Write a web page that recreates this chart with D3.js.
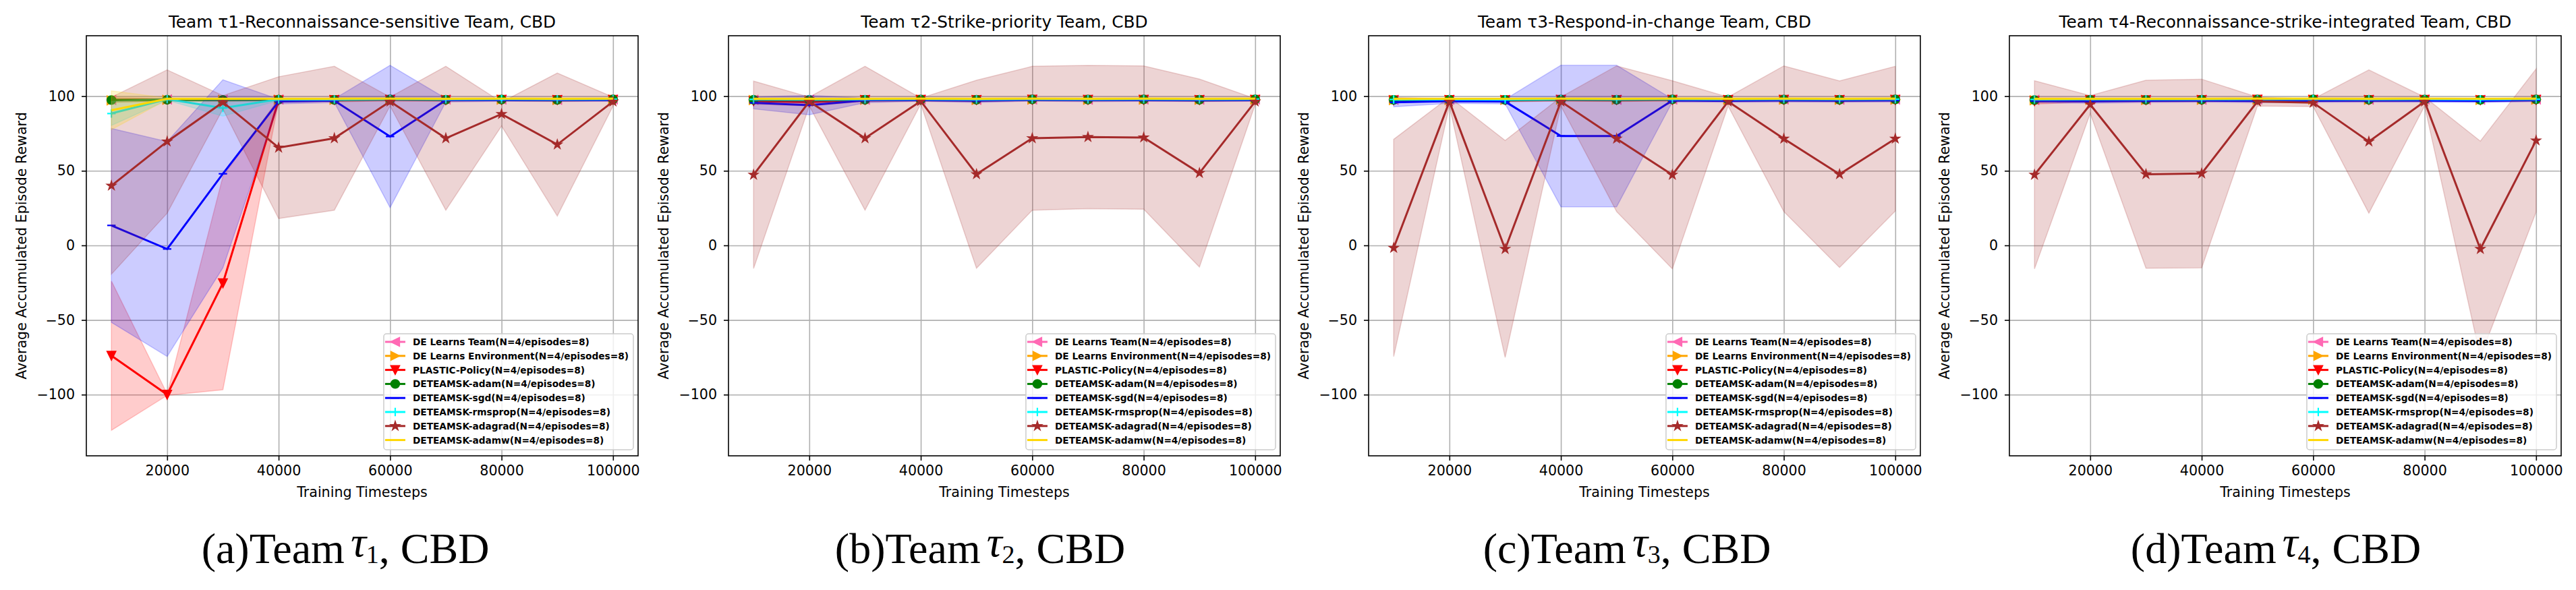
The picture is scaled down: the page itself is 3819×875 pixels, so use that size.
<!DOCTYPE html>
<html>
<head>
<meta charset="utf-8">
<script src="https://cdn.jsdelivr.net/npm/d3@7"></script>
<style>
body { margin: 0; background: #fff; }
svg text { font-family: "DejaVu Sans", sans-serif; fill: #000; }
svg text.caption { font-family: "Liberation Serif", "Times New Roman", serif; }
</style>
</head>
<body>
<script>

// ---- data ----
var steps = [10000, 20000, 30000, 40000, 50000, 60000, 70000, 80000, 90000, 100000];
var xTicks = [20000, 40000, 60000, 80000, 100000];
var yTicks = [-100, -50, 0, 50, 100];

var seriesNames = [
	"DE Learns Team(N=4/episodes=8)",
	"DE Learns Environment(N=4/episodes=8)",
	"PLASTIC-Policy(N=4/episodes=8)",
	"DETEAMSK-adam(N=4/episodes=8)",
	"DETEAMSK-sgd(N=4/episodes=8)",
	"DETEAMSK-rmsprop(N=4/episodes=8)",
	"DETEAMSK-adagrad(N=4/episodes=8)",
	"DETEAMSK-adamw(N=4/episodes=8)"
];

var panelTitles = [
	"Team \u03c41-Reconnaissance-sensitive Team, CBD",
	"Team \u03c42-Strike-priority Team, CBD",
	"Team \u03c43-Respond-in-change Team, CBD",
	"Team \u03c44-Reconnaissance-strike-integrated Team, CBD"
];
var captionLetters = ["(a)", "(b)", "(c)", "(d)"];
var captionIndex = ["1", "2", "3", "4"];

// mean reward per series (rows follow seriesNames)
var t1Mean = [
	[97.5, 97.8, 97.6, 97.8, 97.7, 97.9, 97.8, 97.8, 97.6, 97.8],
	[97.2, 97.6, 97.5, 97.7, 97.6, 97.8, 97.7, 97.7, 97.5, 97.7],
	[-73.9, -100.0, -25.3, 97.3, 97.5, 97.6, 97.4, 97.6, 97.5, 97.6],
	[97.4, 97.6, 97.5, 97.7, 97.5, 97.8, 97.6, 97.7, 97.5, 97.8],
	[13.4, -2.4, 48.0, 96.4, 97.0, 73.0, 97.3, 97.4, 97.3, 97.4],
	[88.4, 98.0, 92.1, 97.9, 97.8, 98.0, 97.9, 98.0, 97.9, 98.0],
	[40.0, 69.6, 95.9, 65.5, 71.8, 96.4, 71.8, 88.0, 67.6, 96.4],
	[90.6, 98.2, 98.3, 98.3, 98.3, 98.4, 98.3, 98.4, 98.3, 98.4]
];
var t1Std = [
	[1.5, 0.8, 1.0, 0.8, 0.8, 0.6, 0.7, 0.7, 0.8, 0.7],
	[1.6, 0.9, 1.0, 0.8, 0.9, 0.7, 0.8, 0.7, 0.9, 0.7],
	[50.0, 0.5, 71.4, 1.0, 1.2, 0.8, 0.8, 0.8, 0.8, 0.8],
	[1.2, 0.8, 0.8, 0.7, 0.8, 0.6, 0.7, 0.7, 0.8, 0.6],
	[65.0, 72.0, 63.0, 1.5, 1.2, 47.7, 1.2, 0.8, 0.8, 0.8],
	[8.0, 0.8, 5.5, 0.8, 0.8, 0.6, 0.7, 0.6, 0.7, 0.6],
	[59.3, 48.0, 4.5, 47.5, 48.2, 3.0, 48.2, 8.0, 47.9, 3.0],
	[13.0, 0.6, 0.5, 0.5, 0.5, 0.4, 0.5, 0.4, 0.5, 0.4]
];

var t2Mean = [
	[97.6, 97.5, 97.7, 97.8, 97.6, 97.8, 97.7, 97.8, 97.7, 97.8],
	[97.4, 97.3, 97.6, 97.7, 97.5, 97.7, 97.6, 97.7, 97.6, 97.7],
	[96.7, 96.0, 97.5, 97.6, 97.5, 97.7, 97.6, 97.6, 97.5, 97.6],
	[97.6, 97.5, 97.6, 97.7, 97.6, 97.8, 97.7, 97.8, 97.6, 97.8],
	[95.5, 94.0, 97.2, 97.4, 97.0, 97.5, 97.3, 97.4, 97.2, 97.4],
	[97.9, 97.8, 97.9, 98.0, 97.8, 98.0, 97.9, 98.0, 97.9, 98.0],
	[47.3, 96.4, 71.8, 96.7, 47.7, 71.8, 72.6, 72.3, 48.5, 96.4],
	[98.3, 98.2, 98.3, 98.4, 98.3, 98.4, 98.3, 98.4, 98.3, 98.4]
];
var t2Std = [
	[1.0, 1.2, 0.8, 0.7, 0.9, 0.7, 0.8, 0.7, 0.8, 0.7],
	[1.1, 1.3, 0.9, 0.8, 1.0, 0.8, 0.9, 0.8, 0.9, 0.8],
	[2.0, 2.5, 1.0, 0.9, 1.0, 0.8, 0.8, 0.8, 0.9, 0.8],
	[1.0, 1.1, 0.8, 0.7, 0.8, 0.6, 0.7, 0.6, 0.8, 0.6],
	[4.0, 6.5, 1.5, 0.8, 1.2, 0.8, 1.0, 0.8, 0.8, 0.8],
	[0.8, 0.9, 0.7, 0.6, 0.7, 0.6, 0.7, 0.6, 0.7, 0.6],
	[62.8, 3.0, 48.2, 2.0, 63.0, 48.2, 48.0, 48.0, 63.0, 2.0],
	[0.5, 0.6, 0.5, 0.4, 0.5, 0.4, 0.5, 0.4, 0.5, 0.4]
];

var t3Mean = [
	[97.6, 97.7, 97.6, 97.8, 97.7, 97.8, 97.7, 97.8, 97.7, 97.8],
	[97.4, 97.5, 97.5, 97.7, 97.6, 97.7, 97.6, 97.7, 97.6, 97.7],
	[97.3, 97.5, 97.4, 97.6, 97.5, 97.6, 97.5, 97.6, 97.5, 97.6],
	[97.5, 97.6, 97.5, 97.7, 97.6, 97.8, 97.7, 97.7, 97.6, 97.8],
	[95.9, 96.7, 96.4, 73.3, 73.3, 97.1, 96.9, 97.1, 97.0, 97.1],
	[97.8, 97.9, 97.8, 98.0, 97.9, 98.0, 97.9, 98.0, 97.9, 98.0],
	[-1.7, 96.4, -2.4, 96.4, 71.5, 47.3, 96.4, 71.5, 47.7, 71.5],
	[98.2, 98.3, 98.3, 98.4, 98.3, 98.4, 98.3, 98.4, 98.3, 98.4]
];
var t3Std = [
	[1.2, 0.9, 1.0, 0.8, 0.9, 0.7, 0.8, 0.7, 0.8, 0.7],
	[1.3, 1.0, 1.0, 0.8, 0.9, 0.8, 0.9, 0.8, 0.9, 0.8],
	[1.5, 1.0, 1.2, 0.9, 1.0, 0.8, 0.9, 0.8, 0.9, 0.8],
	[1.1, 0.8, 0.9, 0.7, 0.8, 0.6, 0.7, 0.7, 0.8, 0.6],
	[3.0, 1.5, 1.5, 47.4, 47.4, 1.0, 1.0, 1.0, 1.0, 1.0],
	[0.8, 0.7, 0.8, 0.6, 0.7, 0.6, 0.7, 0.6, 0.7, 0.6],
	[72.8, 3.0, 72.7, 3.0, 48.8, 63.0, 3.0, 48.8, 62.5, 48.5],
	[0.6, 0.5, 0.5, 0.4, 0.5, 0.4, 0.5, 0.4, 0.5, 0.4]
];

var t4Mean = [
	[97.5, 97.7, 97.6, 97.7, 97.8, 97.8, 97.7, 97.8, 97.6, 97.8],
	[97.3, 97.5, 97.5, 97.6, 97.7, 97.7, 97.6, 97.7, 97.5, 97.7],
	[96.7, 97.4, 97.4, 97.5, 97.7, 97.6, 97.5, 97.6, 97.4, 97.6],
	[97.4, 97.6, 97.5, 97.6, 97.7, 97.8, 97.6, 97.7, 97.5, 97.8],
	[96.8, 96.6, 96.9, 97.0, 96.8, 96.9, 97.0, 97.0, 96.9, 97.2],
	[97.8, 97.9, 97.9, 97.9, 98.0, 98.0, 97.9, 98.0, 97.9, 98.0],
	[47.3, 94.4, 47.7, 48.2, 96.4, 95.6, 69.6, 96.4, -2.4, 70.3],
	[98.2, 98.3, 98.3, 98.3, 98.4, 98.4, 98.3, 98.4, 98.3, 98.4]
];
var t4Std = [
	[1.2, 0.9, 0.9, 0.8, 0.7, 0.7, 0.8, 0.7, 0.9, 0.7],
	[1.3, 1.0, 1.0, 0.9, 0.8, 0.8, 0.9, 0.8, 1.0, 0.8],
	[2.0, 1.2, 1.1, 1.0, 0.8, 0.9, 1.0, 0.8, 1.1, 0.8],
	[1.1, 0.8, 0.8, 0.7, 0.6, 0.6, 0.7, 0.6, 0.8, 0.6],
	[1.2, 1.3, 1.1, 1.0, 1.1, 1.0, 1.0, 1.0, 1.1, 0.9],
	[0.8, 0.7, 0.7, 0.7, 0.6, 0.6, 0.7, 0.6, 0.7, 0.6],
	[63.0, 6.0, 63.0, 63.2, 3.0, 2.5, 48.0, 3.0, 72.3, 48.0],
	[0.6, 0.5, 0.5, 0.5, 0.4, 0.4, 0.5, 0.4, 0.5, 0.4]
];

var panelMeans = [t1Mean, t2Mean, t3Mean, t4Mean];
var panelStds = [t1Std, t2Std, t3Std, t4Std];

// ---- styles / layout ----
var seriesColors = ["#ff69b4", "#ffa500", "#ff0000", "#008000", "#0000ff", "#00ffff", "#a52a2a", "#ffd700"];
var seriesMarkers = ["<", ">", "v", "o", "_", "+", "*", null];

var plotLefts = [128, 1080, 2029, 2979];
var captionCenters = [512, 1453, 2412, 3374];
var plotW = 818, plotTop = 53, plotBottom = 676;
var markerSize = 12.4;

var svg = d3.select("body").append("svg")
	.attr("width", 3819)
	.attr("height", 875);

svg.append("rect").attr("width", 3819).attr("height", 875).attr("fill", "#fff");

function markerD(type, s) {
	var r = s / 2, pts;
	if (type === "o") return d3.symbol(d3.symbolCircle, Math.PI * r * r)();
	if (type === "+") return "M" + (-r) + ",0H" + r + "M0," + (-r) + "V" + r;
	if (type === "_") return "M" + (-r) + ",0H" + r;
	if (type === "v") pts = [[0, r], [-r, -r], [r, -r]];
	if (type === "<") pts = [[-r, 0], [r, -r], [r, r]];
	if (type === ">") pts = [[r, 0], [-r, -r], [-r, r]];
	if (type === "*") {
		pts = [];
		for (var k = 0; k < 10; k++) {
			var a = k * Math.PI / 5 - Math.PI / 2;
			var rr = k % 2 ? r * 0.381 : r;
			pts.push([rr * Math.cos(a), rr * Math.sin(a)]);
		}
	}
	return "M" + pts.join("L") + "Z";
}

function drawMarker(g, type, color, cx, cy) {
	if (!type) return;
	var open = (type === "+" || type === "_");
	g.append("path")
		.attr("d", markerD(type, markerSize))
		.attr("transform", "translate(" + cx + "," + cy + ")")
		.attr("fill", open ? "none" : color)
		.attr("stroke", color)
		.attr("stroke-width", open ? 2.2 : 2)
		.attr("stroke-linejoin", "miter");
}

panelTitles.forEach(function (title, p) {
	var left = plotLefts[p], right = left + plotW;

	var x = d3.scaleLinear().domain([5500, 104500]).range([left, right]);
	var y = d3.scaleLinear().domain([-141, 140.5]).range([plotBottom, plotTop]);

	var g = svg.append("g");

	g.append("clipPath").attr("id", "clip" + p)
		.append("rect")
		.attr("x", left).attr("y", plotTop)
		.attr("width", plotW).attr("height", plotBottom - plotTop);

	// grid
	g.append("g")
		.attr("transform", "translate(0," + plotBottom + ")")
		.call(d3.axisBottom(x).tickValues(xTicks).tickSize(-(plotBottom - plotTop)).tickFormat(""))
		.call(function (a) { a.select(".domain").remove(); })
		.selectAll("line").attr("stroke", "#b0b0b0").attr("stroke-width", 1.6);
	g.append("g")
		.attr("transform", "translate(" + left + ",0)")
		.call(d3.axisLeft(y).tickValues(yTicks).tickSize(-plotW).tickFormat(""))
		.call(function (a) { a.select(".domain").remove(); })
		.selectAll("line").attr("stroke", "#b0b0b0").attr("stroke-width", 1.6);

	var plot = g.append("g").attr("clip-path", "url(#clip" + p + ")");
	var means = panelMeans[p], stds = panelStds[p];

	seriesNames.forEach(function (name, s) {
		var color = seriesColors[s];
		var rows = steps.map(function (t, i) {
			return { t: t, m: means[s][i], sd: stds[s][i] };
		});

		plot.append("path")
			.datum(rows)
			.attr("d", d3.area()
				.x(function (d) { return x(d.t); })
				.y0(function (d) { return y(d.m - d.sd); })
				.y1(function (d) { return y(d.m + d.sd); }))
			.attr("fill", color)
			.attr("fill-opacity", 0.2)
			.attr("stroke", color)
			.attr("stroke-opacity", 0.2)
			.attr("stroke-width", 1.5);

		plot.append("path")
			.datum(rows)
			.attr("d", d3.line()
				.x(function (d) { return x(d.t); })
				.y(function (d) { return y(d.m); }))
			.attr("fill", "none")
			.attr("stroke", color)
			.attr("stroke-width", 3);

		rows.forEach(function (d) {
			drawMarker(plot, seriesMarkers[s], color, x(d.t), y(d.m));
		});
	});

	// axes
	var xAxis = g.append("g")
		.attr("transform", "translate(0," + plotBottom + ")")
		.call(d3.axisBottom(x).tickValues(xTicks).tickSize(7).tickPadding(7).tickFormat(d3.format("d")));
	var yAxis = g.append("g")
		.attr("transform", "translate(" + left + ",0)")
		.call(d3.axisLeft(y).tickValues(yTicks).tickSize(7).tickPadding(10));
	[xAxis, yAxis].forEach(function (a) {
		a.select(".domain").remove();
		a.selectAll("line").attr("stroke", "#000").attr("stroke-width", 1.6);
		a.selectAll("text").attr("font-size", 20.6).attr("font-family", "DejaVu Sans").attr("fill", "#000");
	});

	g.append("rect")
		.attr("x", left).attr("y", plotTop)
		.attr("width", plotW).attr("height", plotBottom - plotTop)
		.attr("fill", "none").attr("stroke", "#000").attr("stroke-width", 1.6);

	// labels
	g.append("text")
		.attr("x", (left + right) / 2).attr("y", 41)
		.attr("text-anchor", "middle")
		.attr("font-size", 24.8)
		.text(title);

	g.append("text")
		.attr("x", (left + right) / 2).attr("y", 737)
		.attr("text-anchor", "middle")
		.attr("font-size", 20.6)
		.text("Training Timesteps");

	g.append("text")
		.attr("transform", "translate(" + (left - 96) + "," + ((plotTop + plotBottom) / 2) + ") rotate(-90)")
		.attr("text-anchor", "middle")
		.attr("dominant-baseline", "central")
		.attr("font-size", 20.6)
		.text("Average Accumulated Episode Reward");

	// legend
	var rowH = 20.8, legH = 172;
	var leg = g.append("g");
	var box = leg.append("rect");
	var texts = [];
	seriesNames.forEach(function (name, s) {
		var t = leg.append("text")
			.attr("x", 43).attr("y", 12 + s * rowH)
			.attr("dominant-baseline", "central")
			.attr("font-size", 13.7)
			.attr("font-weight", "bold")
			.text(name);
		texts.push(t.node().getComputedTextLength());
		leg.append("line")
			.attr("x1", 2).attr("x2", 32)
			.attr("y1", 12 + s * rowH).attr("y2", 12 + s * rowH)
			.attr("stroke", seriesColors[s]).attr("stroke-width", 3);
		drawMarker(leg, seriesMarkers[s], seriesColors[s], 17, 12 + s * rowH);
	});
	var legW = 43 + d3.max(texts) + 7;
	box.attr("width", legW).attr("height", legH).attr("rx", 4)
		.attr("fill", "#fff").attr("fill-opacity", 0.8)
		.attr("stroke", "#cccccc").attr("stroke-width", 1.5);
	leg.attr("transform", "translate(" + (right - 7 - legW) + "," + (plotBottom - 9 - legH) + ")");

	// caption below the panel
	var cap = g.append("text")
		.attr("class", "caption")
		.attr("x", captionCenters[p]).attr("y", 835)
		.attr("text-anchor", "middle")
		.attr("font-size", 64);
	cap.append("tspan").text(captionLetters[p] + "Team");
	cap.append("tspan").attr("font-style", "italic").attr("dx", 9).attr("dy", -10).text("\u03c4");
	cap.append("tspan").attr("font-size", 38).attr("dy", 10).text(captionIndex[p]);
	cap.append("tspan").text(", CBD");
});

</script>
</body>
</html>
